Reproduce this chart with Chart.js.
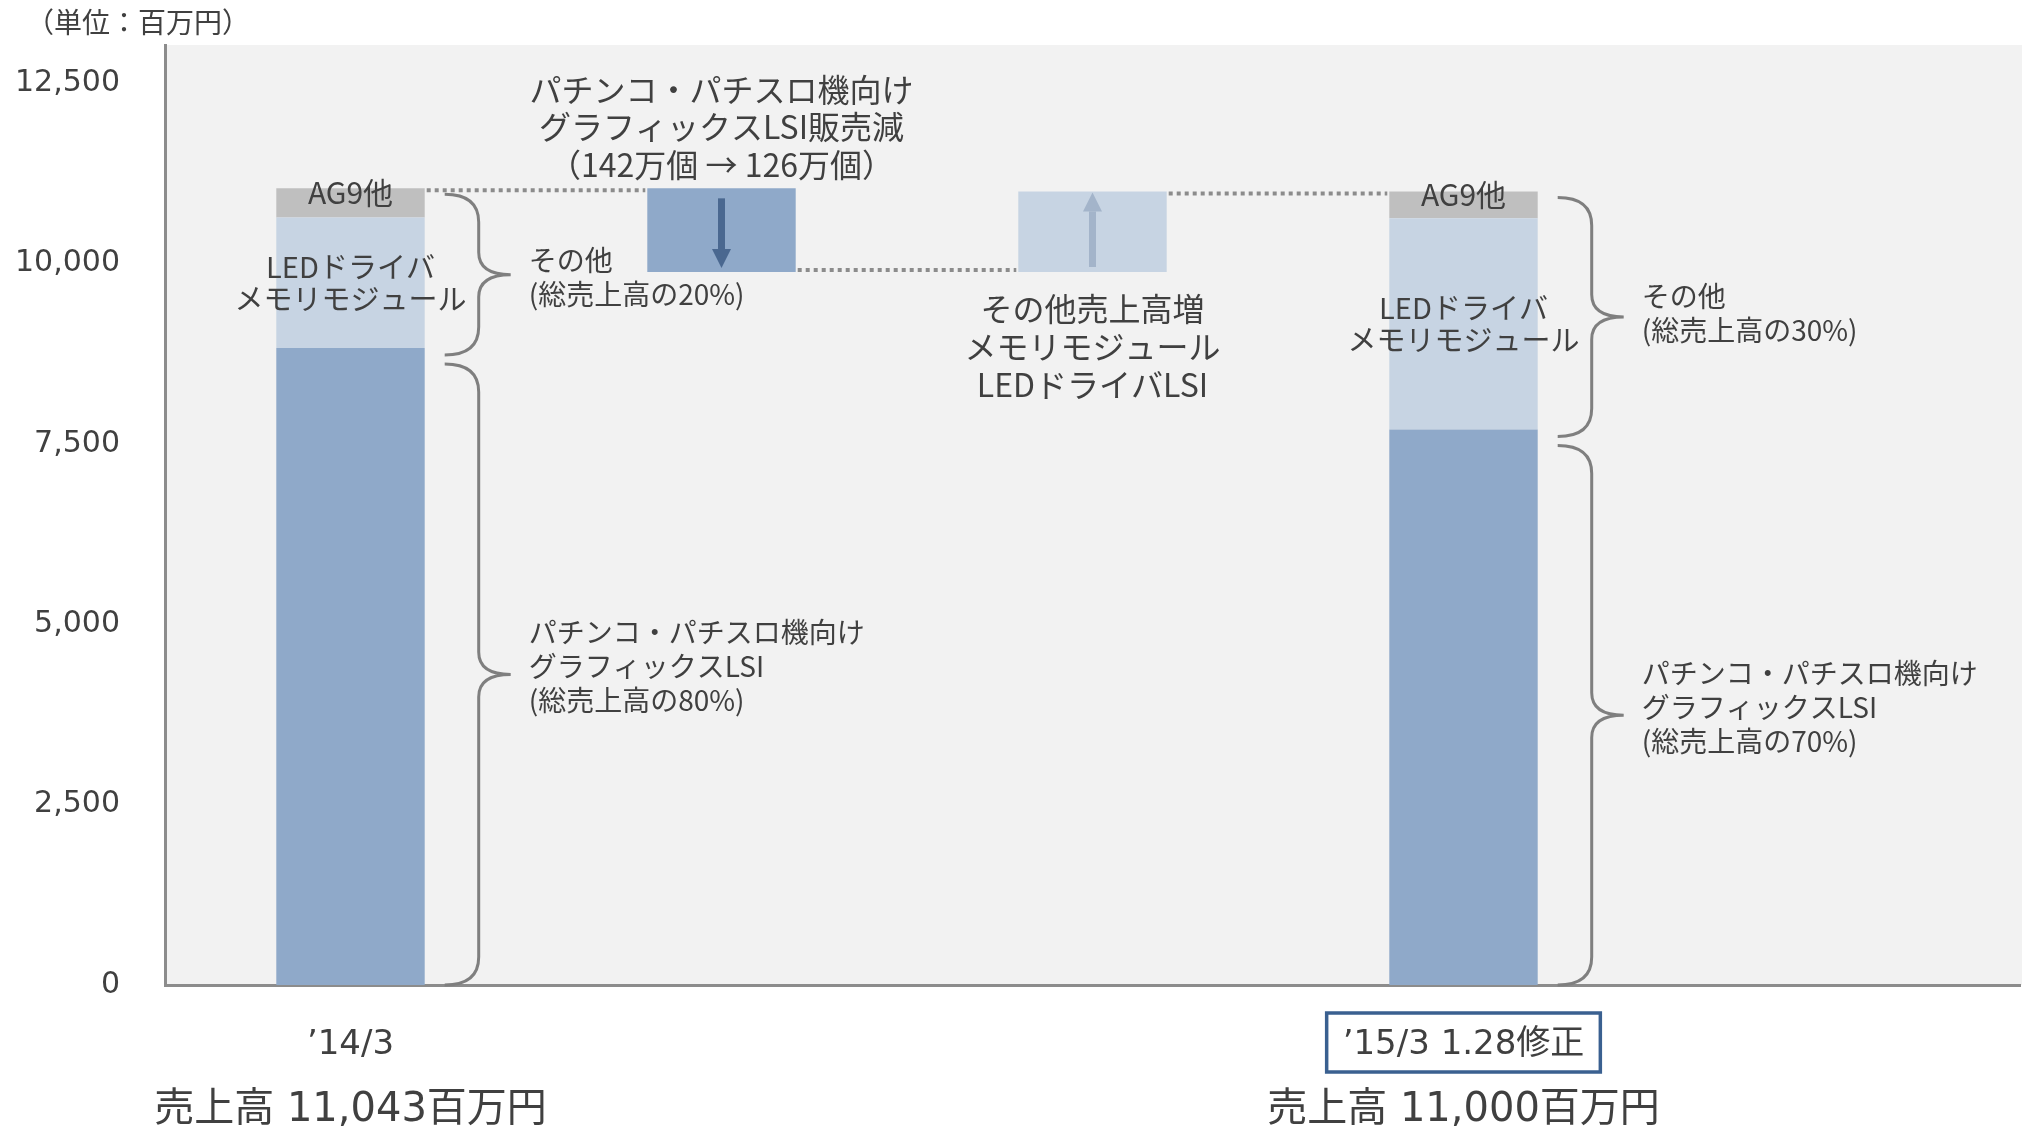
<!DOCTYPE html>
<html lang="ja">
<head>
<meta charset="utf-8">
<title>売上高の増減</title>
<script src="https://cdn.jsdelivr.net/npm/chart.js@4.4.1/dist/chart.umd.min.js"></script>
<style>
  html, body { margin: 0; padding: 0; background: #fff; }
  #wrap { width: 2022px; height: 1131px; }
</style>
</head>
<body>
<div id="wrap"><canvas id="chart" width="2022" height="1131"></canvas></div>
<script>
// ── Data ──────────────────────────
const categories  = ['’14/3', '', '', '’15/3 1.28修正', ''];
const graphicsLsi = [8830, null, null, 7700, null];              // パチンコ・パチスロ機向けグラフィックスLSI
const ledMemory   = [1810, null, null, 2930, null];              // LEDドライバ・メモリモジュール
const ag9Other    = [403, null, null, 370, null];                // AG9他
const bridge      = [null, [9883, 11043], [9883, 11000], null, null]; // 販売減 / 売上高増
const salesTotals = ['売上高 11,043百万円', '', '', '売上高 11,000百万円', ''];
const shareOther  = ['(総売上高の20%)', '', '', '(総売上高の30%)', ''];
const shareLsi    = ['(総売上高の80%)', '', '', '(総売上高の70%)', ''];
const yTicks      = [0, 2500, 5000, 7500, 10000, 12500];

const unitLabel   = '（単位：百万円）';
const decreaseText = ['パチンコ・パチスロ機向け', 'グラフィックスLSI販売減', '（142万個 → 126万個）'];
const increaseText = ['その他売上高増', 'メモリモジュール', 'LEDドライバLSI'];

// Colors
const DARK = '#8FA9C9';
const LIGHT = '#C7D4E3';
const GREY = '#BFBFBF';
const PLOT_BG = '#F2F2F2';
const AXIS = '#8C8C8C';
const TEXT = '#404040';
const JP = "'Noto Sans CJK JP', 'Noto Sans', sans-serif";
const LATIN = "'DejaVu Sans', 'Noto Sans CJK JP', sans-serif";

function barBox(el) {
    const p = el.getProps(['x', 'y', 'base', 'width'], true);
    return {
        x: p.x,
        left: p.x - p.width / 2,
        right: p.x + p.width / 2,
        top: Math.min(p.y, p.base),
        bottom: Math.max(p.y, p.base)
    };
}

function dotted(ctx, x1, x2, y) {
    ctx.save();
    ctx.strokeStyle = AXIS;
    ctx.lineWidth = 4;
    ctx.setLineDash([4, 4]);
    ctx.beginPath();
    ctx.moveTo(x1 + 2, y);
    ctx.lineTo(x2 - 2, y);
    ctx.stroke();
    ctx.restore();
}

function arrow(ctx, x, yFrom, yTo, color) {
    const dir = yTo > yFrom ? 1 : -1;
    const head = 19;
    ctx.save();
    ctx.strokeStyle = color;
    ctx.fillStyle = color;
    ctx.lineWidth = 7;
    ctx.beginPath();
    ctx.moveTo(x, yFrom);
    ctx.lineTo(x, yTo - dir * head);
    ctx.stroke();
    ctx.beginPath();
    ctx.moveTo(x - 9.5, yTo - dir * head);
    ctx.lineTo(x + 9.5, yTo - dir * head);
    ctx.lineTo(x, yTo);
    ctx.closePath();
    ctx.fill();
    ctx.restore();
}

function brace(ctx, xEnd, xMid, xTip, yTop, yBot) {
    const ym = (yTop + yBot) / 2;
    const r = 28;
    ctx.save();
    ctx.strokeStyle = '#7F7F7F';
    ctx.lineWidth = 3;
    ctx.beginPath();
    ctx.moveTo(xEnd, yTop);
    ctx.quadraticCurveTo(xMid, yTop, xMid, yTop + r);
    ctx.lineTo(xMid, ym - r * 0.8);
    ctx.quadraticCurveTo(xMid, ym, xTip, ym);
    ctx.quadraticCurveTo(xMid, ym, xMid, ym + r * 0.8);
    ctx.lineTo(xMid, yBot - r);
    ctx.quadraticCurveTo(xMid, yBot, xEnd, yBot);
    ctx.stroke();
    ctx.restore();
}

function lines(ctx, arr, x, yFirst, lh, font, align) {
    ctx.save();
    ctx.font = font;
    ctx.fillStyle = TEXT;
    ctx.textAlign = align || 'center';
    ctx.textBaseline = 'middle';
    arr.forEach((t, k) => ctx.fillText(t, x, yFirst + k * lh));
    ctx.restore();
}

const annotate = {
    id: 'annotate',
    beforeDraw(chart) {
        const { ctx, chartArea: a } = chart;
        ctx.save();
        ctx.fillStyle = '#FFFFFF';
        ctx.fillRect(0, 0, chart.width, chart.height);
        ctx.fillStyle = PLOT_BG;
        ctx.fillRect(a.left, a.top, chart.width - a.left, a.bottom - a.top);
        ctx.restore();
    },
    afterDatasetsDraw(chart) {
        const ctx = chart.ctx;
        const el = (ds, i) => barBox(chart.getDatasetMeta(ds).data[i]);

        // connectors between waterfall steps
        const start = el(2, 0), down = el(3, 1), up = el(3, 2), end = el(2, 3);
        dotted(ctx, start.right, down.left, start.top + 2);
        dotted(ctx, down.right, up.left, down.bottom - 2);
        dotted(ctx, up.right, end.left, up.top + 2);

        arrow(ctx, down.x, down.top + 10, down.bottom - 4, '#4A6890');
        arrow(ctx, up.x, up.bottom - 5, up.top + 1, '#A3B4CA');

        lines(ctx, decreaseText, down.x, down.top - 99, 37.5, '32px ' + JP);
        lines(ctx, increaseText, up.x, up.bottom + 37, 38, '32px ' + JP);

        // stacked totals: labels and braces
        [0, 3].forEach(i => {
            const lsi = el(0, i), led = el(1, i), ag9 = el(2, i);
            const r = lsi.right;

            lines(ctx, ['AG9他'], ag9.x, (ag9.top + ag9.bottom) / 2 - 10, 0, '30px ' + JP);
            const ledMid = (led.top + led.bottom) / 2;
            lines(ctx, ['LEDドライバ', 'メモリモジュール'], led.x, ledMid - 16, 32, '29px ' + JP);

            const upTop = ag9.top + 6, upBot = lsi.top + 7;
            const loTop = lsi.top + 16, loBot = lsi.bottom;
            brace(ctx, r + 20, r + 54, r + 86, upTop, upBot);
            brace(ctx, r + 20, r + 54, r + 86, loTop, loBot);

            const upMid = (upTop + upBot) / 2 + (i === 0 ? 3 : -4);
            lines(ctx, ['その他', shareOther[i]], r + 104, upMid - 17, 34, '28px ' + JP, 'left');
            const loMid = (loTop + loBot) / 2 - 8;
            lines(ctx, ['パチンコ・パチスロ機向け', 'グラフィックスLSI', shareLsi[i]], r + 104, loMid - 34, 34, '28px ' + JP, 'left');
        });
    },
    afterDraw(chart) {
        const ctx = chart.ctx;
        const xs = chart.scales.x;

        lines(ctx, [unitLabel], 26, 22, 0, '28px ' + JP, 'left');

        salesTotals.forEach((t, i) => {
            if (!t) return;
            lines(ctx, [t], xs.getPixelForValue(i), 1111, 0, '40px ' + LATIN);
        });

        // frame round the revised-forecast label
        const i = 3;
        ctx.save();
        ctx.font = '34px ' + LATIN;
        const w = ctx.measureText(categories[i]).width + 32;
        const cx = xs.getPixelForValue(i);
        ctx.strokeStyle = '#3A6090';
        ctx.lineWidth = 3.5;
        ctx.strokeRect(cx - w / 2, 1013, w, 59);
        ctx.restore();
    }
};

const ctx = document.getElementById('chart').getContext('2d');
const chart = new Chart(ctx, {
    type: 'bar',
    data: {
        labels: categories,
        datasets: [
            { label: 'パチンコ・パチスロ機向けグラフィックスLSI', data: graphicsLsi, backgroundColor: DARK },
            { label: 'LEDドライバ・メモリモジュール', data: ledMemory, backgroundColor: LIGHT },
            { label: 'AG9他', data: ag9Other, backgroundColor: GREY },
            { label: '増減', data: bridge, backgroundColor: [GREY, DARK, LIGHT, GREY, GREY] }
        ]
    },
    options: {
        responsive: false,
        animation: false,
        layout: { padding: { top: 45, right: 2, left: 0, bottom: 0 } },
        datasets: { bar: { barPercentage: 0.4, categoryPercentage: 1, borderWidth: 0 } },
        plugins: { legend: { display: false }, tooltip: { enabled: false } },
        scales: {
            x: {
                stacked: true,
                grid: { display: false, drawTicks: false },
                border: { color: AXIS, width: 3 },
                ticks: { color: TEXT, font: { family: LATIN, size: 34 }, padding: 40, maxRotation: 0, autoSkip: false },
                afterFit: s => { s.height = 146; s.paddingLeft = 0; s.paddingRight = 0; }
            },
            y: {
                stacked: true,
                min: 0,
                max: 13030,
                grid: { display: false, drawTicks: false },
                border: { color: AXIS, width: 3 },
                ticks: {
                    color: TEXT,
                    font: { family: LATIN, size: 30 },
                    padding: 45,
                    callback: v => v.toLocaleString('en-US')
                },
                afterBuildTicks: s => { s.ticks = yTicks.map(v => ({ value: v })); },
                afterFit: s => { s.width = 165; s.paddingTop = 0; s.paddingBottom = 0; }
            }
        }
    },
    plugins: [annotate]
});
</script>
</body>
</html>
